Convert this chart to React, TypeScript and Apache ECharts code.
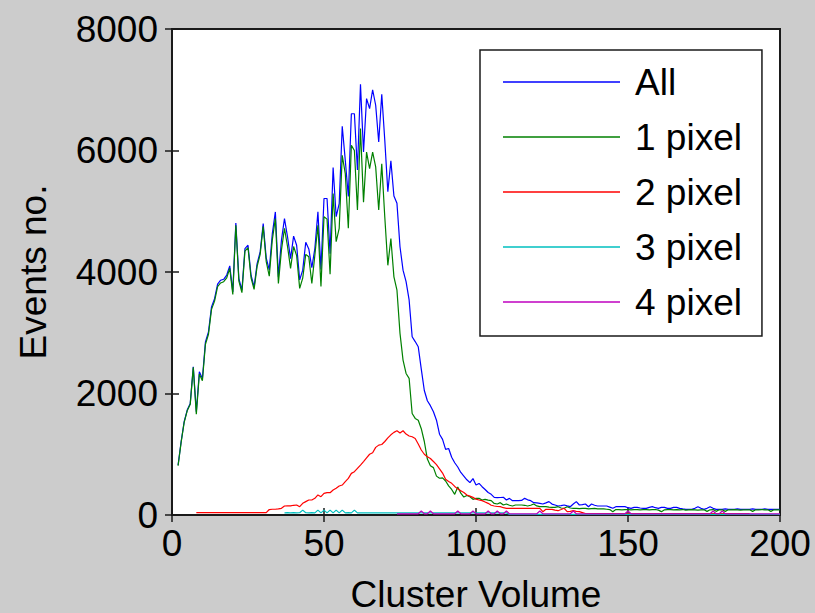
import React, { useEffect, useRef } from "react";
import * as echarts from "echarts";

// Event counts per cluster volume. Each series starts at its own volume bin.
const ALL_START = 2;
const allEvents = [
  822, 1206, 1535, 1727, 1837, 2440, 1700, 2357, 2248, 2850,
  3015, 3426, 3560, 3800, 3865, 3880, 3950, 4100, 3673, 4808,
  3892, 3700, 4386, 4441, 3947, 3755, 4139, 4331, 4797, 4227,
  4035, 4633, 4989, 3920, 4523, 4880, 4580, 4220, 4590, 4440,
  3870, 4030, 4490, 4380, 4070, 4390, 4990, 4040, 5210, 5210,
  4300, 5720, 4910, 5125, 6400, 5840, 5245, 6605, 6605, 5680,
  7090, 5975, 6855, 6690, 7000, 6745, 6140, 6925, 6165, 5320,
  5830, 5250, 5130, 4415, 4030, 3840, 3540, 2935, 2855, 2770,
  2400, 2050, 1880, 1800, 1700, 1560, 1330, 1245, 1080, 1095,
  950, 860, 790, 700, 640, 580, 532, 600, 493, 520,
  466, 420, 370, 340, 291, 285, 288, 291, 247, 274,
  236, 236, 236, 240, 274, 250, 236, 203, 200, 192,
  181, 200, 220, 180, 165, 148, 155, 165, 150, 137,
  180, 220, 165, 170, 181, 137, 181, 160, 148, 148,
  148, 148, 130, 110, 137, 137, 137, 137, 120, 110,
  126, 126, 115, 110, 110, 126, 137, 120, 110, 126,
  126, 110, 110, 126, 126, 110, 100, 93, 93, 93,
  110, 137, 110, 93, 110, 137, 110, 93, 93, 93,
  100, 93, 93, 93, 100, 93, 93, 93, 93, 100,
  93, 93, 93, 100, 93, 93, 93, 93, 93,
];

const ONE_START = 2;
const onePixel = [
  810, 1195, 1525, 1715, 1825, 2430, 1660, 2320, 2210, 2810,
  2975, 3385, 3520, 3760, 3820, 3840, 3905, 4060, 3630, 4770,
  3850, 3660, 4345, 4400, 3905, 3715, 4095, 4290, 4750, 4170,
  3930, 4530, 4880, 3810, 4360, 4720, 4420, 4060, 4420, 4270,
  3730, 3900, 4290, 4250, 3810, 4280, 4770, 3760, 4910, 4870,
  3965, 5290, 4500, 4720, 5920, 5620, 4720, 6085, 6000, 5020,
  6360, 5150, 5975, 5700, 5975, 5730, 5020, 5780, 4900, 4110,
  4550, 3920, 3700, 2990, 2550, 2330, 2250, 1670, 1590, 1560,
  1420, 1210, 920, 810, 780, 640, 605, 610, 560, 480,
  420, 340, 460, 360, 295, 320, 300, 258, 274, 274,
  247, 258, 245, 236, 190, 181, 203, 165, 181, 160,
  148, 165, 165, 165, 160, 148, 160, 181, 150, 137,
  137, 137, 130, 126, 126, 137, 115, 110, 137, 115,
  110, 110, 105, 110, 110, 100, 105, 110, 100, 100,
  100, 95, 90, 55, 90, 90, 85, 90, 90, 85,
  90, 90, 85, 90, 90, 85, 90, 90, 80, 55,
  85, 90, 90, 85, 90, 85, 90, 80, 85, 90,
  85, 80, 85, 85, 60, 85, 90, 60, 85, 85,
  60, 85, 85, 90, 85, 80, 85, 85, 85, 60,
  85, 85, 90, 85, 85, 60, 85, 85, 85,
];

const TWO_START = 8;
const twoPixel = [
  38, 38, 38, 38, 38, 38, 38, 38, 38, 38,
  38, 38, 38, 38, 38, 38, 38, 38, 38, 38,
  38, 38, 38, 38, 90, 95, 95, 100, 110, 148,
  150, 150, 160, 165, 137, 192, 220, 247, 247, 275,
  330, 302, 357, 367, 367, 411, 440, 477, 493, 548,
  603, 685, 713, 768, 822, 880, 940, 1000, 1025, 1113,
  1150, 1160, 1210, 1270, 1320, 1360, 1387, 1350, 1387, 1332,
  1300, 1288, 1260, 1170, 1070, 1000, 960, 930, 880, 830,
  760, 690, 587, 550, 521, 470, 430, 400, 370, 329,
  310, 291, 260, 247, 236, 215, 192, 160, 148, 140,
  137, 120, 110, 110, 110, 110, 110, 110, 110, 110,
  110, 110, 110, 110, 55, 93, 93, 93, 80, 71,
  90, 110, 55, 60, 71, 60, 55, 40, 25, 25,
  25, 25, 25, 25, 25, 25, 25, 25, 25, 25,
  25, 25, 25, 25, 25, 25, 25, 25, 25, 25,
  25, 25, 25, 25, 25, 25, 25, 25, 25, 25,
  25, 25, 25, 25, 25, 25, 25, 25, 25, 25,
  25, 25, 25, 25, 25, 25, 25, 25, 25, 25,
  25, 25, 25,
];

const THREE_START = 37;
const threePixel = [
  35, 38, 35, 38, 35, 38, 80, 38, 35, 38,
  35, 80, 35, 80, 35, 80, 35, 80, 35, 80,
  35, 38, 35, 80, 35, 35, 35, 35, 35, 35,
  35, 35, 35, 35, 35, 35, 35, 35, 35, 35,
  35, 35, 35, 35, 35, 35, 35, 35, 35, 35,
  35, 35, 35, 35, 35, 35, 35, 35, 35, 35,
  35, 35, 35, 35, 35, 35, 35, 35, 35, 35,
  35, 35, 35, 35, 10, 10, 10, 10, 10, 10,
  10, 10, 10, 10, 10, 10, 10, 10, 10, 10,
  10, 10, 10, 10, 10, 10, 10, 10, 10, 10,
  10, 10, 10, 10, 10, 10, 10, 10, 10, 10,
  10, 10, 10, 10, 10, 10, 10, 10, 10, 10,
  10, 10, 10, 10, 10, 10, 10, 10, 10, 10,
  10, 10, 10, 10, 10, 10, 10, 10, 10, 10,
  10, 10, 10, 10, 10, 10, 10, 10, 10, 10,
  10, 10, 10, 10, 10, 10, 10, 10, 10, 10,
  10, 10, 10, 10,
];

const FOUR_START = 74;
const fourPixel = [
  20, 20, 20, 20, 20, 20, 20, 20, 65, 20,
  20, 65, 20, 20, 20, 20, 20, 20, 20, 20,
  65, 20, 20, 20, 20, 65, 20, 20, 20, 20,
  65, 20, 20, 65, 20, 20, 65, 20, 20, 20,
  20, 20, 20, 20, 20, 20, 20, 65, 20, 20,
  20, 20, 20, 20, 20, 20, 20, 20, 65, 20,
  20, 20, 20, 20, 20, 20, 20, 20, 20, 20,
  20, 20, 20, 20, 20, 20, 65, 20, 20, 20,
  20, 20, 20, 20, 20, 20, 20, 20, 20, 20,
  20, 20, 20, 20, 20, 20, 20, 20, 20, 20,
  20, 20, 20, 20, 65, 20, 20, 65, 20, 20,
  20, 20, 20, 20, 20, 20, 20, 20, 20, 20,
  20, 20, 20, 20, 20, 20, 20,
];

const seriesNames = ["All", "1 pixel", "2 pixel", "3 pixel", "4 pixel"];
const seriesColors = ["#0000ff", "#008000", "#ff0000", "#00bfbf", "#bf00bf"];
const seriesData: [number, number[]][] = [
  [ALL_START, allEvents],
  [ONE_START, onePixel],
  [TWO_START, twoPixel],
  [THREE_START, threePixel],
  [FOUR_START, fourPixel],
];

const xTicks = { min: 0, max: 200, interval: 50 };
const yTicks = { min: 0, max: 8000, interval: 2000 };

const FONT = "'Liberation Sans', Arial, Helvetica, sans-serif";
const INK = "#1a1a1a";

export default function App() {
  const ref = useRef<HTMLDivElement>(null);

  useEffect(() => {
    if (!ref.current) return;
    const chart = echarts.init(ref.current, undefined, { renderer: "svg" });

    const tick = {
      show: true,
      inside: true,
      length: 7,
      lineStyle: { color: INK, width: 1.5 },
    };
    const plain = (v: number) => String(v);

    chart.setOption({
      animation: false,
      backgroundColor: "#cccccc",
      textStyle: { fontFamily: FONT },
      grid: {
        left: 172,
        right: 35,
        top: 29,
        bottom: 98,
        containLabel: false,
        outerBoundsMode: "none",
        show: true,
        backgroundColor: "#ffffff",
        borderColor: INK,
        borderWidth: 2,
      },
      xAxis: [
        {
          type: "value",
          ...xTicks,
          position: "bottom",
          axisLine: { show: false },
          axisTick: tick,
          splitLine: { show: false },
          axisLabel: {
            fontSize: 37,
            color: "#000",
            margin: 10,
            fontFamily: FONT,
            formatter: plain,
          },
          name: "Cluster Volume",
          nameLocation: "middle",
          nameGap: 62,
          nameTextStyle: {
            fontSize: 37,
            lineHeight: 34,
            color: "#000",
            fontFamily: FONT,
          },
        },
        {
          type: "value",
          ...xTicks,
          position: "top",
          axisLine: { show: false },
          axisTick: tick,
          splitLine: { show: false },
          axisLabel: { show: false },
        },
      ],
      yAxis: [
        {
          type: "value",
          ...yTicks,
          position: "left",
          axisLine: { show: false },
          axisTick: tick,
          splitLine: { show: false },
          axisLabel: {
            fontSize: 37,
            color: "#000",
            margin: 14,
            fontFamily: FONT,
            formatter: plain,
          },
          name: "Events no.",
          nameLocation: "middle",
          nameGap: 120,
          nameRotate: 90,
          nameTextStyle: { fontSize: 37, color: "#000", fontFamily: FONT },
        },
        {
          type: "value",
          ...yTicks,
          position: "right",
          axisLine: { show: false },
          axisTick: tick,
          splitLine: { show: false },
          axisLabel: { show: false },
        },
      ],
      legend: {
        orient: "vertical",
        left: 480,
        top: 50,
        padding: [10, 20, 12, 23],
        icon: "rect",
        itemWidth: 117,
        itemHeight: 1.4,
        itemGap: 11,
        backgroundColor: "#ffffff",
        borderColor: INK,
        borderWidth: 1.5,
        borderRadius: 0,
        textStyle: {
          fontSize: 37,
          color: "#000",
          lineHeight: 44,
          padding: [0, 0, 0, 10],
          fontFamily: FONT,
        },
        data: seriesNames,
      },
      series: seriesData.map(([start, values], i) => ({
        name: seriesNames[i],
        type: "line",
        xAxisIndex: 0,
        yAxisIndex: 0,
        symbol: "none",
        showSymbol: false,
        color: seriesColors[i],
        lineStyle: { color: seriesColors[i], width: 1.2 },
        data: values.map((v, j) => [start + j, v]),
      })),
    });

    return () => chart.dispose();
  }, []);

  return (
    <div
      ref={ref}
      style={{ position: "fixed", left: 0, top: 0, width: 815, height: 613 }}
    />
  );
}
